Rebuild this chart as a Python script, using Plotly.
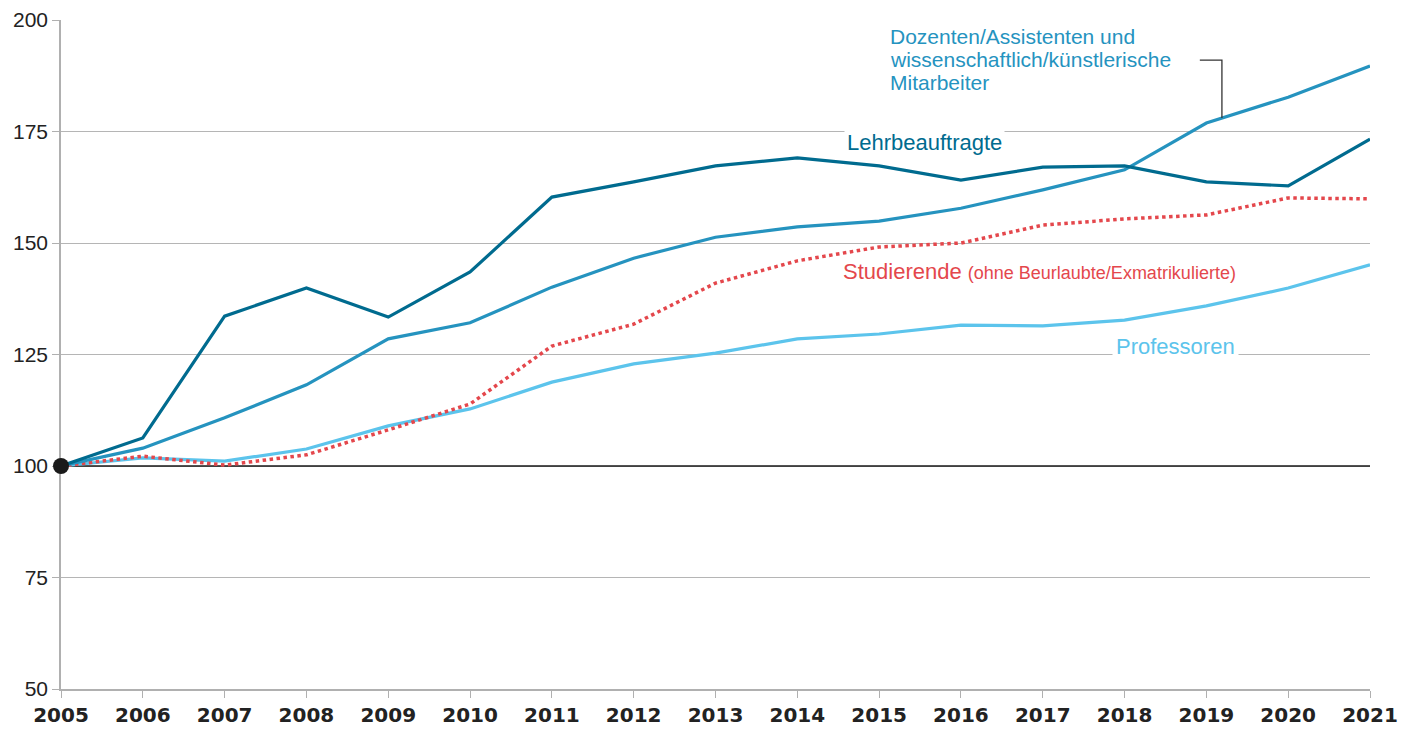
import plotly.graph_objects as go

years = list(range(2005, 2022))
lehrbeauftragte = [100, 106.3, 133.6, 139.9, 133.4, 143.5, 160.3, 163.7, 167.3, 169.1, 167.3, 164.1, 167.0, 167.3, 163.7, 162.8, 173.3]
dozenten = [100, 104.0, 110.8, 118.2, 128.5, 132.1, 140.1, 146.6, 151.3, 153.6, 154.9, 157.8, 161.9, 166.4, 176.9, 182.7, 189.7]
studierende = [100, 102.2, 100.2, 102.5, 108.1, 113.9, 126.9, 131.8, 141.0, 146.0, 149.1, 150.0, 154.0, 155.4, 156.3, 160.1, 159.9]
professoren = [100, 101.8, 101.1, 103.8, 109.0, 112.8, 118.8, 122.9, 125.3, 128.5, 129.6, 131.6, 131.4, 132.7, 135.9, 139.9, 145.1]
y_ticks = [50, 75, 100, 125, 150, 175, 200]
dozenten_label = ["Dozenten/Assistenten und", "wissenschaftlich/künstlerische", "Mitarbeiter"]

C_LEHR = "#006b8f"
C_DOZ = "#2593bf"
C_STUD = "#e4474c"
C_PROF = "#5cc4ec"

FONT = "Liberation Sans, Arial, sans-serif"

fig = go.Figure()

# baseline at 100
fig.add_trace(go.Scatter(x=[2005, 2021], y=[100, 100], mode="lines",
                         line=dict(color="#1a1a1a", width=1.5), hoverinfo="skip", showlegend=False))

fig.add_trace(go.Scatter(x=years, y=professoren, mode="lines", line=dict(color=C_PROF, width=3.2), showlegend=False))
fig.add_trace(go.Scatter(x=years, y=studierende, mode="lines", line=dict(color=C_STUD, width=3.5, dash="dot"), showlegend=False))
fig.add_trace(go.Scatter(x=years, y=dozenten, mode="lines", line=dict(color=C_DOZ, width=3.2), showlegend=False))
fig.add_trace(go.Scatter(x=years, y=lehrbeauftragte, mode="lines", line=dict(color=C_LEHR, width=3.2), showlegend=False))

fig.add_trace(go.Scatter(x=[2005], y=[100], mode="markers",
                         marker=dict(color="#1a1a1a", size=16), showlegend=False, cliponaxis=False))

# annotations
fig.add_annotation(x=2015.56, y=172.6, text="Lehrbeauftragte", showarrow=False,
                   font=dict(family=FONT, size=22, color=C_LEHR), bgcolor="white",
                   xanchor="center", yanchor="middle", borderpad=2)
fig.add_annotation(x=2018.62, y=126.9, text="Professoren", showarrow=False,
                   font=dict(family=FONT, size=22, color=C_PROF), bgcolor="white",
                   xanchor="center", yanchor="middle", borderpad=3)
fig.add_annotation(x=2014.53, y=143.7,
                   text="Studierende <span style='font-size:18px'>(ohne Beurlaubte/Exmatrikulierte)</span>",
                   showarrow=False,
                   font=dict(family=FONT, size=22, color=C_STUD),
                   xanchor="left", yanchor="middle")
for i, line in enumerate(dozenten_label):
    fig.add_annotation(x=2015.11, y=196.3 - i * 5.2, text=line,
                       showarrow=False, align="left",
                       font=dict(family=FONT, size=21, color=C_DOZ),
                       xanchor="left", yanchor="middle")

fig.add_shape(type="path", path="M 2018.92 191.0 L 2019.19 191.0 L 2019.19 178.0",
              line=dict(color="#333333", width=1.3), layer="above")

fig.update_layout(
    width=1408, height=721,
    margin=dict(l=53, r=46, t=12, b=40),
    plot_bgcolor="white", paper_bgcolor="white",
    xaxis=dict(range=[2005, 2021], tickmode="array", tickvals=years, ticktext=[str(y) for y in years],
               showgrid=False, showline=True, linecolor="#b0b0b0", linewidth=1.5,
               ticks="outside", ticklen=7, tickcolor="#b0b0b0", automargin=False,
               layer="below traces",
               tickfont=dict(family="DejaVu Sans, sans-serif", size=20, color="#222222", weight="bold"),
               zeroline=False),
    yaxis=dict(range=[50, 200], tickvals=y_ticks, automargin=False,
               showgrid=True, gridcolor="#b5b5b5", gridwidth=1,
               showline=True, linecolor="#b0b0b0", linewidth=1.5,
               ticks="outside", ticklen=7, tickcolor="#b0b0b0",
               layer="below traces",
               tickfont=dict(family=FONT, size=21, color="#222222"),
               zeroline=False),
)

fig.write_html("out.html")
